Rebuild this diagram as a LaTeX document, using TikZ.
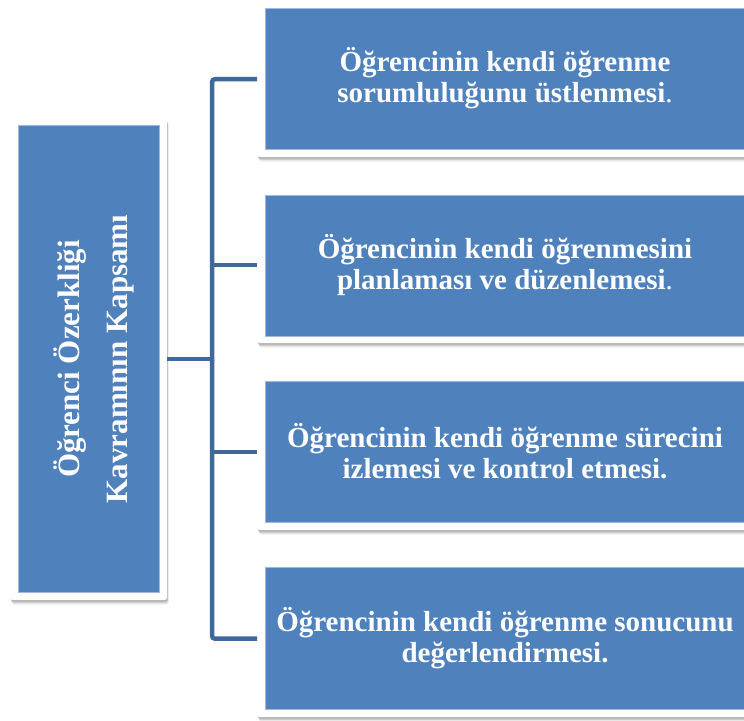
\documentclass[tikz,border=0pt]{standalone}
\usepackage{fontspec}
\setmainfont{Liberation Serif}
\usetikzlibrary{shadows}
\definecolor{boxblue}{HTML}{4F81BD}
\definecolor{edgeblue}{HTML}{9CB9E0}
\definecolor{connblue}{HTML}{40699B}
\tikzset{
  frame/.style={rectangle, fill=white, rounded corners=3pt, inner sep=0pt, anchor=north west,
    general shadow={shadow xshift=1.5pt, shadow yshift=-4.5pt, opacity=0.08, fill=black},
    general shadow={shadow xshift=1pt, shadow yshift=-3pt, opacity=0.12, fill=black},
    general shadow={shadow xshift=0.5pt, shadow yshift=-1.5pt, opacity=0.15, fill=black}},
  bluebox/.style={rectangle, fill=boxblue, draw=edgeblue, line width=0.7pt, inner sep=0pt,
    text=white, font=\bfseries\fontsize{29}{31}\selectfont, align=center},
  conn/.style={draw=connblue, line width=4.5pt, rounded corners=3pt}
}
\begin{document}
\begin{tikzpicture}[x=1pt,y=-1pt]
\useasboundingbox (0,0) rectangle (744,720);
\clip (0,0) rectangle (744,720);
% left box
\node[frame, minimum width=157pt, minimum height=482pt] (lo) at (10,118) {};
\node[bluebox, minimum width=141pt, minimum height=467pt] (li) at (lo.center) {};
\node[text=white, font=\bfseries\fontsize{31}{48}\selectfont, align=center, rotate=90] (lt) at (94,359)
  {Öğrenci Özerkliği\\Kavramının Kapsamı};
% right boxes
\node[frame, minimum width=496pt, minimum height=156pt] (r1o) at (257,1) {};
\node[bluebox, minimum width=480pt, minimum height=141pt] (r1) at (505,78.5)
  {Öğrencinin kendi öğrenme\\sorumluluğunu üstlenmesi\textnormal{.}};
\node[frame, minimum width=496pt, minimum height=156pt] (r2o) at (257,187) {};
\node[bluebox, minimum width=480pt, minimum height=141pt] (r2) at (505,265.5)
  {Öğrencinin kendi öğrenmesini\\planlaması ve düzenlemesi\textnormal{.}};
\node[frame, minimum width=496pt, minimum height=156pt] (r3o) at (257,374) {};
\node[bluebox, minimum width=480pt, minimum height=141pt] (r3) at (505,451.5)
  {Öğrencinin kendi öğrenme sürecini\\izlemesi ve kontrol etmesi.};
\node[frame, minimum width=496pt, minimum height=157pt] (r4o) at (257,560) {};
\node[bluebox, minimum width=480pt, minimum height=142pt] (r4) at (505,638)
  {Öğrencinin kendi öğrenme sonucunu\\değerlendirmesi.};
% connectors
\coordinate (bx) at (212,0);
\draw[conn] (r1o.west) -- (r1o.west -| bx) -- (r4o.west -| bx) -- (r4o.west);
\draw[conn] (r2o.west -| bx) -- (r2o.west);
\draw[conn] (r3o.west -| bx) -- (r3o.west);
\draw[conn] (lo.east) -- (lo.east -| bx);
\end{tikzpicture}
\end{document}
